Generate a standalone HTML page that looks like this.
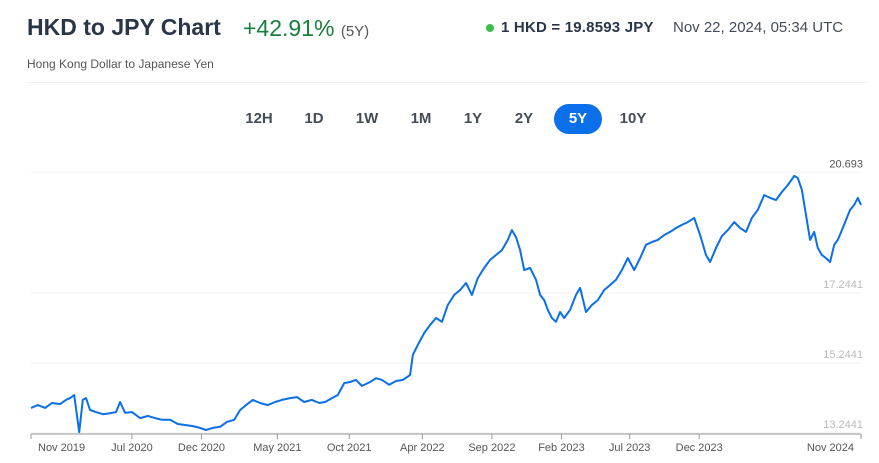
<!DOCTYPE html>
<html><head><meta charset="utf-8"><style>
body{margin:0;width:879px;height:463px;background:#fff;font-family:"Liberation Sans",sans-serif;position:relative;overflow:hidden}
.a{position:absolute;white-space:nowrap}
.btn{position:absolute;top:104px;height:30px;line-height:30px;font-size:15px;font-weight:bold;color:#444c58;text-align:center;width:48px}
</style></head><body>
<div class="a" style="left:27px;top:14px;font-size:23px;font-weight:bold;color:#2a3548">HKD to JPY Chart</div>
<div class="a" style="left:243px;top:15px;font-size:23px;color:#17803b">+42.91% <span style="font-size:15px;color:#555">(5Y)</span></div>
<div class="a" style="left:27px;top:57px;font-size:12px;color:#555">Hong Kong Dollar to Japanese Yen</div>
<div class="a" style="left:486px;top:24px;width:8px;height:8px;border-radius:50%;background:#3cbf4a"></div>
<div class="a" style="left:501px;top:19px;font-size:15px;font-weight:bold;color:#2a3548;letter-spacing:0.2px">1 HKD = 19.8593 JPY</div>
<div class="a" style="left:673px;top:19px;font-size:15px;color:#444c58">Nov 22, 2024, 05:34 UTC</div>
<div class="a" style="left:27px;top:82px;width:841px;height:1px;background:#eef0f3"></div>
<div class="btn" style="left:235px">12H</div>
<div class="btn" style="left:290px">1D</div>
<div class="btn" style="left:343px">1W</div>
<div class="btn" style="left:397px">1M</div>
<div class="btn" style="left:449px">1Y</div>
<div class="btn" style="left:500px">2Y</div>
<div class="btn" style="left:554px;background:#0a6fe8;color:#fff;border-radius:15px">5Y</div>
<div class="btn" style="left:609px">10Y</div>
<svg id="c" width="879" height="463" style="position:absolute;left:0;top:0"></svg>
<script>
const days=[0,15,31,46,64,77,86,95,106,114,121,130,143,158,174,187,196,207,222,240,257,273,288,306,323,341,356,372,385,400,416,431,447,460,473,488,504,521,537,552,570,585,601,618,634,647,662,675,689,702,715,728,746,759,772,788,803,818,834,840,851,865,878,891,904,917,931,944,957,970,983,997,1010,1023,1036,1049,1058,1067,1076,1085,1098,1111,1120,1129,1137,1146,1155,1164,1173,1186,1199,1208,1221,1234,1247,1261,1274,1287,1300,1313,1327,1340,1353,1366,1379,1393,1406,1419,1432,1445,1459,1472,1485,1494,1507,1520,1533,1547,1560,1573,1586,1599,1613,1626,1639,1652,1665,1679,1687,1696,1705,1714,1723,1731,1740,1749,1758,1767,1775,1784,1793,1802,1811,1819,1826];
const values=[13.96,14.04,13.96,14.10,14.07,14.19,14.24,14.33,13.27,14.19,14.24,13.90,13.84,13.78,13.81,13.84,14.13,13.82,13.84,13.67,13.73,13.67,13.62,13.62,13.50,13.47,13.44,13.39,13.33,13.39,13.42,13.56,13.62,13.90,14.04,14.19,14.10,14.04,14.13,14.19,14.24,14.27,14.13,14.19,14.10,14.13,14.24,14.33,14.67,14.70,14.76,14.59,14.70,14.81,14.76,14.62,14.73,14.76,14.90,15.47,15.76,16.10,16.33,16.53,16.42,16.90,17.19,17.33,17.53,17.19,17.67,17.96,18.19,18.33,18.47,18.76,19.04,18.84,18.47,17.90,17.96,17.62,17.19,17.04,16.76,16.53,16.42,16.70,16.53,16.76,17.19,17.39,16.70,16.90,17.04,17.33,17.47,17.62,17.90,18.24,17.90,18.24,18.62,18.70,18.76,18.90,18.99,19.10,19.19,19.27,19.39,18.90,18.33,18.13,18.53,18.87,19.04,19.27,19.10,18.99,19.39,19.62,20.04,19.96,19.90,20.13,20.33,20.59,20.53,20.19,19.47,18.76,18.99,18.53,18.33,18.24,18.13,18.62,18.76,19.04,19.33,19.62,19.76,19.96,19.76];
const yTicks=[20.693,17.2441,15.2441,13.2441];
const yLabels=["20.693","17.2441","15.2441","13.2441"];
const xTickDays=[0,222,375,542,700,861,1014,1167,1317,1470,1826];
const xTickLabels=["Nov 2019","Jul 2020","Dec 2020","May 2021","Oct 2021","Apr 2022","Sep 2022","Feb 2023","Jul 2023","Dec 2023","Nov 2024"];
const svg=document.getElementById('c');const NS='http://www.w3.org/2000/svg';
const X0=31,X1=861,D1=1826;
const y=v=>293-(v-17.2441)*35;
const x=d=>X0+d*(X1-X0)/D1;
function mk(t,a){const e=document.createElementNS(NS,t);for(const k in a)e.setAttribute(k,a[k]);svg.appendChild(e);return e;}
yTicks.forEach((v,i)=>{
 const g=mk('line',{x1:X0,x2:X1,y1:y(v),y2:y(v),stroke:'#f0f0f0','stroke-width':1});
 
 
 const t=mk('text',{x:863,y:y(v)-5,'text-anchor':'end','font-size':11,fill:i==0?'#555':'#bbb','font-family':'Liberation Sans, sans-serif'});
 t.textContent=yLabels[i];
 
 
});
const ax=mk('line',{x1:X0,x2:X1,y1:434,y2:434,stroke:'#999','stroke-width':1});


xTickDays.forEach((d,i)=>{
 const last=i==xTickDays.length-1,first=i==0;
 const px=x(d);
 const tk=mk('line',{x1:px,x2:px,y1:434,y2:439,stroke:'#999'});
 
 
 const t=mk('text',{x:first?38:last?854:px,y:451,'text-anchor':first?'start':last?'end':'middle','font-size':11,fill:'#555','font-family':'Liberation Sans, sans-serif'});
 t.textContent=xTickLabels[i];
 
 
});
const p=mk('path',{d:values.map((v,i)=>(i?'L':'M')+x(days[i]).toFixed(1)+','+y(v).toFixed(1)).join(''),fill:'none',stroke:'#0a6fe8','stroke-width':2,'stroke-linejoin':'round'});


</script>
</body></html>
